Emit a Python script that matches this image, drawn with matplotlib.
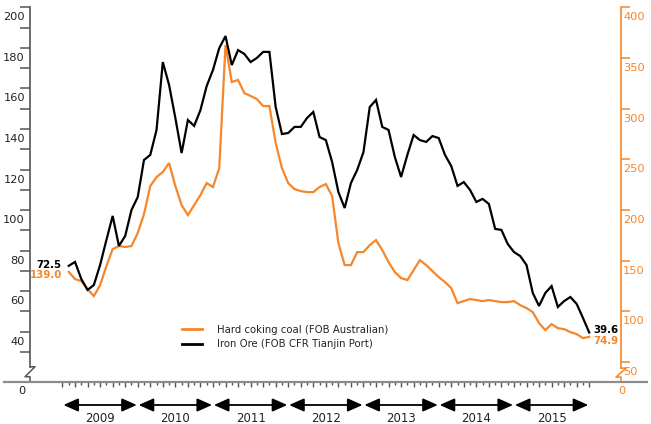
import numpy as np
import matplotlib.pyplot as plt
import matplotlib.transforms as mtrans
from matplotlib.lines import Line2D

# monthly prices, Jan 2009 .. Dec 2015
months = np.arange(1, 85)
years = ['2009', '2010', '2011', '2012', '2013', '2014', '2015']

iron_ore = [72.5, 74.4, 66.0, 60.6, 63.0, 72.9, 85.2, 97.1, 82.3, 87.2, 100.0, 106.4,
            124.7, 127.2, 139.5, 173.0, 161.7, 145.4, 128.1, 144.4, 141.5, 149.3, 161.2, 169.1,
            179.9, 185.8, 171.5, 178.9, 177.0, 173.0, 175.0, 178.0, 178.0, 150.8, 137.5, 138.0,
            141.0, 141.0, 145.4, 148.4, 136.0, 134.5, 123.7, 108.9, 101.0, 113.3, 119.8, 128.6,
            150.8, 154.3, 141.0, 139.5, 126.2, 116.3, 127.2, 137.0, 134.5, 133.6, 136.5, 135.5,
            127.2, 121.7, 111.9, 113.8, 109.9, 104.0, 105.5, 103.0, 90.7, 90.2, 83.3, 79.3,
            77.3, 72.9, 59.1, 52.7, 59.1, 62.5, 52.2, 55.1, 57.1, 53.7, 46.8, 39.6]

coking_coal = [139.0, 131.9, 129.9, 122.0, 115.1, 126.0, 144.7, 161.5, 164.5, 163.5, 164.5, 177.3,
               196.0, 223.7, 232.5, 237.5, 246.4, 223.7, 204.9, 195.0, 204.9, 214.8, 226.6, 222.7,
               241.4, 362.8, 326.3, 328.3, 315.4, 312.5, 309.5, 302.6, 302.6, 266.1, 241.4, 226.6,
               220.7, 218.7, 217.7, 217.7, 222.7, 225.6, 213.8, 167.4, 145.7, 145.7, 158.5, 158.5,
               165.4, 170.4, 160.5, 148.7, 138.8, 132.9, 130.9, 140.8, 150.6, 145.7, 139.8, 133.9,
               128.9, 123.0, 108.2, 110.2, 112.2, 111.2, 110.2, 111.2, 110.2, 109.2, 109.2, 110.2,
               106.2, 103.3, 99.3, 88.5, 81.6, 87.5, 83.5, 82.5, 79.6, 77.6, 73.7, 74.9]

left_ticks = np.arange(30, 201, 10)
left_labels = np.arange(40, 201, 20)
right_ticks = np.arange(50, 401, 50)

ORANGE = '#F5862A'
AXIS = '#555555'
TXT = '#222222'

W, H = 651, 424
fig = plt.figure(figsize=(W / 100, H / 100), dpi=100)
ax = fig.add_axes([30 / W, 1 - 381.7 / H, 591 / W, 374.4 / H])
ax2 = ax.twinx()
ax.set_zorder(ax2.get_zorder() + 1)
ax.patch.set_visible(False)

ax2.plot(months, coking_coal, color=ORANGE, lw=1.6, solid_joinstyle='miter')
ax.plot(months, iron_ore, color='black', lw=1.6, solid_joinstyle='miter')

ax.set_ylim(15.34, 200)
ax2.set_ylim(30.68, 400)
ax.set_xlim(-5.18, 89.07)

for a in (ax, ax2):
    for s in a.spines.values():
        s.set_visible(False)

# left axis
ax.spines['left'].set_visible(True)
ax.spines['left'].set_bounds(22.7, 200)
ax.spines['left'].set_color(AXIS)
ax.spines['left'].set_linewidth(1.2)
ax.set_yticks(left_ticks)
ax.tick_params(axis='y', direction='out', length=7.2, width=1.1, color=AXIS, labelleft=False)
tl = mtrans.blended_transform_factory(ax.transAxes, ax.transData)
dx = 5 / 591
ax.plot([0, dx, -dx, 0, 0], [22.7, 22.7, 17.8, 17.8, 15.34], transform=tl,
        color=AXIS, lw=1.1, clip_on=False)
for v in left_labels:
    ax.annotate(str(v), xy=(0, v), xycoords=tl, xytext=(-5, -10), textcoords='offset pixels',
                ha='right', va='center', fontsize=8.2, color=TXT)

# right axis
ax2.spines['right'].set_visible(True)
ax2.spines['right'].set_bounds(44.1, 400)
ax2.spines['right'].set_color(ORANGE)
ax2.spines['right'].set_linewidth(1.2)
ax2.set_yticks(right_ticks)
ax2.tick_params(axis='y', direction='out', length=6.5, width=1.1, color=ORANGE, labelright=False)
tr = mtrans.blended_transform_factory(ax2.transAxes, ax2.transData)
ax2.plot([1, 1 + dx, 1 - dx, 1, 1], [44.1, 44.1, 35.2, 35.2, 30.68], transform=tr,
         color=ORANGE, lw=1.1, clip_on=False)
for v in right_ticks:
    ax2.annotate(str(v), xy=(1, v), xycoords=tr, xytext=(2, -10), textcoords='offset pixels',
                 ha='left', va='center', fontsize=8.2, color=ORANGE)

# baseline and zeros
ax.plot([-26 / 591, 1 + 26 / 591], [0, 0], transform=ax.transAxes, color='#8c8c8c',
        lw=1.6, clip_on=False, zorder=5)
ax.text(-8 / 591, -9.5 / 374.4, '0', transform=ax.transAxes, ha='center', va='center',
        fontsize=8.2, color=TXT)
ax.text(1 + 1 / 591, -9.5 / 374.4, '0', transform=ax.transAxes, ha='center', va='center',
        fontsize=8.2, color=ORANGE)

# month ticks
ax.set_xticks(np.arange(0, 85, 2))
ax.set_xticks(np.arange(1, 85, 2), minor=True)
ax.tick_params(axis='x', which='major', direction='out', length=3.8, width=1.0, color=AXIS,
               labelbottom=False, pad=1)
ax.tick_params(axis='x', which='minor', direction='out', length=2.0, width=1.0, color=AXIS)

# year arrows
tb = mtrans.blended_transform_factory(ax.transData, ax.transAxes)
for j, y in enumerate(years):
    ax.annotate('', xy=(12 * (j + 1) - 0.15, -23.3 / 374.4), xycoords=tb,
                xytext=(12 * j + 0.15, -23.3 / 374.4), textcoords=tb,
                arrowprops=dict(arrowstyle='<|-|>,head_length=0.9,head_width=0.4',
                                color='black', lw=1.3, mutation_scale=10,
                                shrinkA=0, shrinkB=0))
    ax.text(12 * j + 6, -36.5 / 374.4, y, transform=tb, ha='center', va='center',
            fontsize=8.5, color=TXT)

# end labels
ax.annotate('72.5', xy=(months[0], iron_ore[0]), xytext=(-7, 1), textcoords='offset pixels',
            ha='right', va='center', fontsize=7.4, weight='bold', color='black')
ax2.annotate('139.0', xy=(months[0], coking_coal[0]), xytext=(-7, -3), textcoords='offset pixels',
             ha='right', va='center', fontsize=7.4, weight='bold', color=ORANGE)
ax.annotate('39.6', xy=(months[-1], iron_ore[-1]), xytext=(4, 3), textcoords='offset pixels',
            ha='left', va='center', fontsize=7.4, weight='bold', color='black')
ax2.annotate('74.9', xy=(months[-1], coking_coal[-1]), xytext=(4, -4), textcoords='offset pixels',
             ha='left', va='center', fontsize=7.4, weight='bold', color=ORANGE)

handles = [Line2D([], [], color=ORANGE, lw=2), Line2D([], [], color='black', lw=2)]
labels = ['Hard coking coal (FOB Australian)', 'Iron Ore (FOB CFR Tianjin Port)']
ax.legend(handles, labels, loc='upper left', bbox_to_anchor=(182 / W, 1 - 325 / H),
          bbox_transform=fig.transFigure, frameon=False, fontsize=7.3, handlelength=2.0,
          handletextpad=1.45, labelspacing=0.4, borderpad=0, borderaxespad=0,
          labelcolor=TXT)

fig.savefig('out.png', dpi=100)
